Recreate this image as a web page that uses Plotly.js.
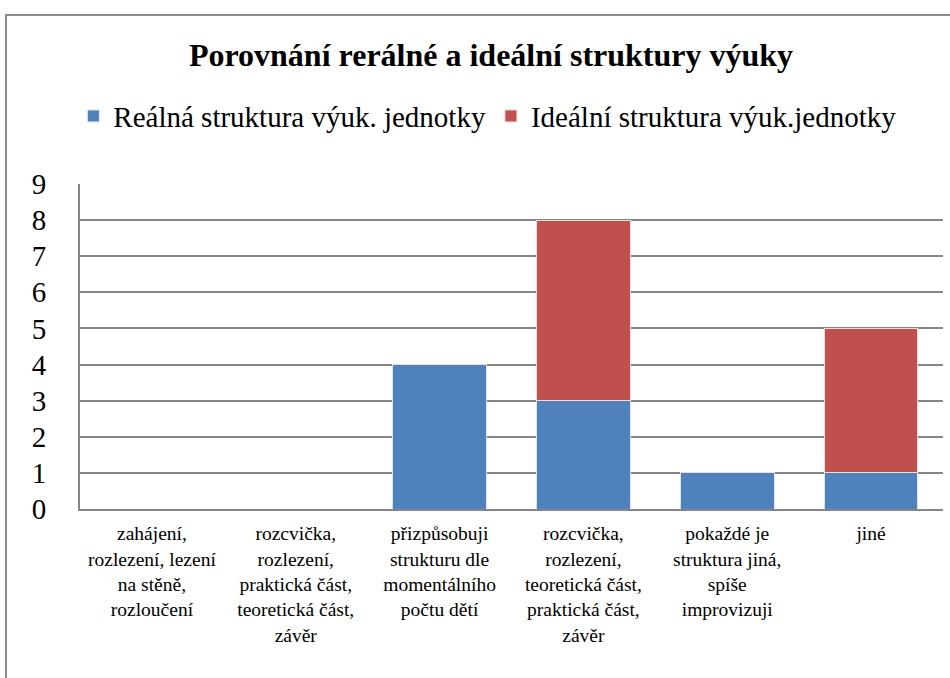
<!DOCTYPE html>
<html>
<head>
<meta charset="utf-8">
<script src="https://cdn.plot.ly/plotly-3.0.1.min.js"></script>
<style>
html,body{margin:0;padding:0;background:#fff;overflow:hidden;}
#frame{position:absolute;left:5px;top:14px;width:1000px;height:1000px;border:2px solid #8c8c8c;box-sizing:border-box;}
#chart{position:absolute;left:0;top:0;width:950px;height:678px;}
</style>
</head>
<body>
<div id="frame"></div>
<div id="chart"></div>
<script>
var categories = ["c1","c2","c3","c4","c5","c6"];
var tickLabels = [
  "zahájení,<br>rozlezení, lezení<br>na stěně,<br>rozloučení",
  "rozcvička,<br>rozlezení,<br>praktická část,<br>teoretická část,<br>závěr",
  "přizpůsobuji<br>strukturu dle<br>momentálního<br>počtu dětí",
  "rozcvička,<br>rozlezení,<br>teoretická část,<br>praktická část,<br>závěr",
  "pokaždé je<br>struktura jiná,<br>spíše<br>improvizuji",
  "jiné"
];
var realValues = [0, 0, 4, 3, 1, 1];
var idealValues = [0, 0, 0, 5, 0, 4];
var seriesNames = ["Reálná struktura výuk. jednotky", "Ideální struktura výuk.jednotky"];
var yTicks = [0,1,2,3,4,5,6,7,8,9];

var serif = "Liberation Serif";
var traces = [
  {type:"bar", name:seriesNames[0], x:categories, y:realValues,
   marker:{color:"#4F81BD", line:{color:"#dce6f2", width:1}}},
  {type:"bar", name:seriesNames[1], x:categories, y:idealValues,
   marker:{color:"#C0504D", line:{color:"#f2dcdb", width:1}}}
];
var layout = {
  width:950, height:678,
  paper_bgcolor:"rgba(0,0,0,0)", plot_bgcolor:"#fff",
  barmode:"stack", bargap:0.35,
  margin:{l:80, r:7, t:184, b:169},
  title:{text:"<b>Porovnání rerálné a ideální struktury výuky</b>",
         font:{family:serif, size:32, color:"#000"},
         x:491/950, xanchor:"center", xref:"container", y:1-55/678, yanchor:"middle", yref:"container"},
  showlegend:true,
  legend:{orientation:"h", x:0.472, xanchor:"center", y:1.209, yanchor:"middle",
          font:{family:serif, size:29, color:"#000"}, traceorder:"normal",
          itemwidth:30, bgcolor:"rgba(0,0,0,0)"},
  xaxis:{type:"category", tickvals:categories, ticktext:tickLabels,
         tickfont:{family:serif, size:19.5, color:"#000"},
         showline:true, linecolor:"#868686", linewidth:2, ticks:"", showgrid:false,
         tickangle:0, ticklabelstandoff:6, fixedrange:true},
  yaxis:{range:[0,9], tickvals:yTicks, ticks:"outside", ticklen:0,
         tickfont:{family:serif, size:29, color:"#000"},
         showgrid:true, gridcolor:"#868686", gridwidth:2,
         showline:true, linecolor:"#868686", linewidth:2, zeroline:false,
         ticklabelstandoff:26, fixedrange:true}
};
Plotly.newPlot("chart", traces, layout, {displayModeBar:false, staticPlot:true});
</script>
</body>
</html>
